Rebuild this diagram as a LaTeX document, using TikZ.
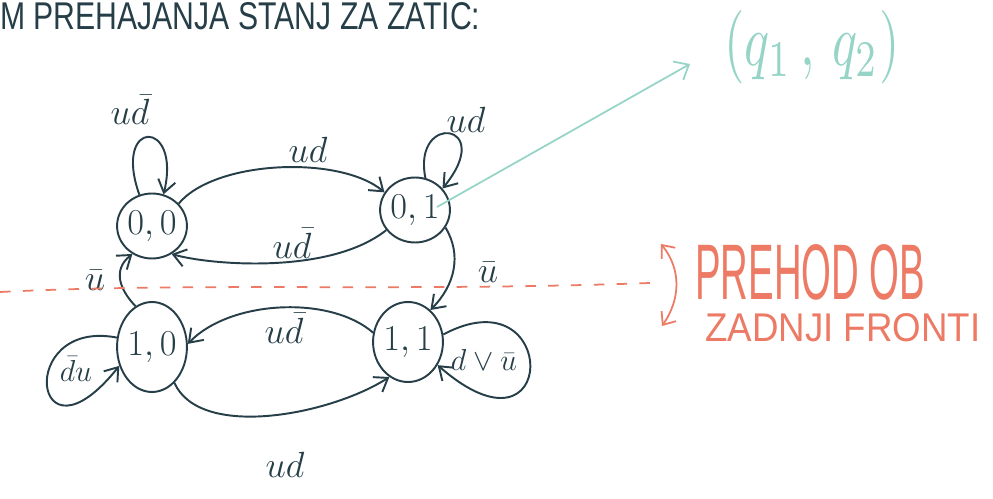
\documentclass[tikz,border=0pt]{standalone}
\usepackage{fontspec}
\usepackage{graphicx}
\setsansfont{Liberation Sans}
\usetikzlibrary{arrows.meta,shapes.geometric}
\definecolor{ink}{RGB}{38,62,72}
\definecolor{salmon}{RGB}{236,122,100}
\definecolor{mint}{RGB}{150,212,200}
\tikzset{
  state/.style={ellipse,draw=ink,line width=1.1pt,inner sep=0pt,font=\fontsize{20}{20}\selectfont,text=ink},
  edge/.style={draw=ink,line width=1.1pt,-{Straight Barb[length=7pt,width=10pt]}},
  lbl/.style={text=ink,font=\fontsize{21}{21}\selectfont},
  note/.style={text=salmon,inner sep=0pt},
}
\begin{document}
\begin{tikzpicture}[x=0.02cm,y=0.02cm]
\useasboundingbox (0,0) rectangle (993,-499);
\fill[white] (0,0) rectangle (993,-499);

% heading
\node[anchor=base west,inner sep=0pt,text=ink] (title) at (0,-30)
  {\resizebox{9.6cm}{0.54cm}{\sffamily M PREHAJANJA STANJ ZA ZATIC:}};

% states
\node[state,minimum width=1.28cm,minimum height=1.30cm] (n00) at (152,-226) {$0,0$};
\node[state,minimum width=1.34cm,minimum height=1.30cm] (n01) at (415,-210) {$0,1$};
\node[state,minimum width=1.38cm,minimum height=1.80cm] (n10) at (152,-347) {$1,0$};
\node[state,minimum width=1.26cm,minimum height=1.60cm] (n11) at (408,-342) {$1,1$};

% self loops
\draw[edge] (n00.112) .. controls (112,-118) and (182,-118) .. (n00.70);
\node[lbl] (l00) at (130,-110) {$u\bar d$};
\draw[edge] (n01.72) .. controls (412,-112) and (497,-122) .. (n01.38);
\node[lbl] (l01) at (466,-120) {$ud$};
\draw[edge] (n10.165) .. controls (15,-318) and (32,-475) .. (n10.210);
\node[lbl,font=\fontsize{19}{19}\selectfont] (l10) at (76,-369) {$\bar d u$};
\draw[edge] (n11.12) .. controls (560,-272) and (560,-472) .. (n11.-38);
\node[lbl,font=\fontsize{19}{19}\selectfont] (l11) at (484,-360) {$d\vee\bar u$};

% transitions
\draw[edge] (n00.40) .. controls (215,-160) and (340,-155) .. (n01.150);
\node[lbl] (a1) at (308,-150) {$ud$};
\draw[edge] (n01.215) .. controls (330,-275) and (210,-265) .. (n00.-55);
\node[lbl] (a2) at (292,-243) {$u\bar d$};
\draw[edge] (n01.-30) .. controls (462,-255) and (455,-285) .. (n11.55);
\node[lbl] (a3) at (488,-272) {$\bar u$};
\draw[edge] (n10.112) .. controls (120,-290) and (112,-270) .. (n00.-125);
\node[lbl] (a4) at (95,-280) {$\bar u$};
\draw[edge] (n11.165) .. controls (330,-295) and (230,-300) .. (n10.5);
\node[lbl] (a5) at (284,-328) {$u\bar d$};
\draw[edge] (n10.-58) .. controls (200,-440) and (330,-415) .. (n11.-118);
\node[lbl] (a6) at (285,-465) {$ud$};

% clock edge annotation
\draw[salmon,line width=1pt,dashed,dash pattern=on 6pt off 7pt] (0,-292) .. controls (200,-282) and (400,-292) .. (650,-283);
\draw[salmon,line width=1pt,{Straight Barb[length=6pt,width=10pt]}-{Straight Barb[length=6pt,width=10pt]}] (661,-244) .. controls (682,-270) and (680,-300) .. (662,-326);
\node[note,anchor=base west] (n1) at (695,-300) {\resizebox{4.6cm}{1.1cm}{\sffamily PREHOD OB}};
\node[note,anchor=base west] (n2) at (705,-342) {\resizebox{5.5cm}{0.56cm}{\sffamily ZADNJI FRONTI}};

% state pair annotation
\coordinate (pick) at (437,-207);
\node[text=mint,inner sep=0pt] (pair) at (812,-47) {\resizebox{3.5cm}{1.1cm}{$(q_1\,,\,q_2)$}};
\draw[mint,line width=1pt,-{Straight Barb[length=7pt,width=12pt]}] (pick) -- (690,-64);
\end{tikzpicture}
\end{document}
